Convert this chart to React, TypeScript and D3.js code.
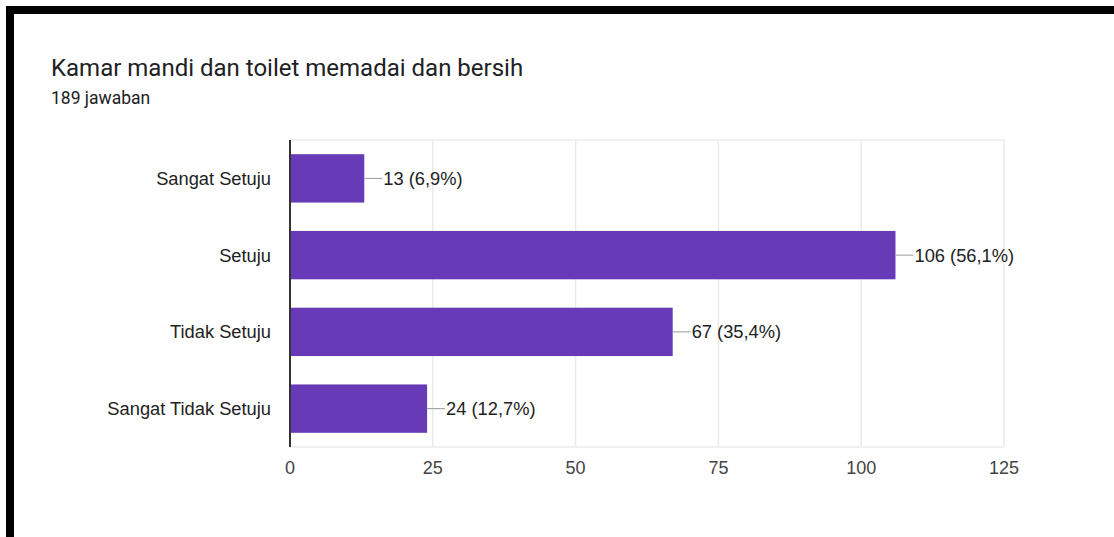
import React, { useEffect, useRef } from "react";
import * as d3 from "d3";

const categories = ["Sangat Setuju", "Setuju", "Tidak Setuju", "Sangat Tidak Setuju"];
const counts = [13, 106, 67, 24];
const percents = ["6,9%", "56,1%", "35,4%", "12,7%"];
const xTicks = [0, 25, 50, 75, 100, 125];
const title = "Kamar mandi dan toilet memadai dan bersih";
const subtitle = "189 jawaban";

const W = 1114;
const H = 537;

const App = () => {
  const svgRef = useRef<SVGSVGElement>(null);

  useEffect(() => {
    const svg = d3.select(svgRef.current);
    svg.selectAll("*").remove();

    const chartFont = "'Liberation Sans', Arial, sans-serif";
    const left = 290;
    const right = 1004;
    const top = 140;
    const bottom = 447;

    const data = categories.map((c, i) => ({ cat: c, n: counts[i], pct: percents[i] }));

    const x = d3.scaleLinear().domain([0, 125]).range([left, right]);
    const y = d3.scaleBand().domain(categories).range([top, bottom]).paddingInner(0.37).paddingOuter(0.185);

    svg.append("rect").attr("width", W).attr("height", H).attr("fill", "#fff");

    // frame borders
    svg.append("rect").attr("x", 6).attr("y", 6).attr("width", W - 6).attr("height", 8).attr("fill", "#000");
    svg.append("rect").attr("x", 6).attr("y", 6).attr("width", 8).attr("height", H - 6).attr("fill", "#000");

    svg
      .append("text")
      .attr("x", 51)
      .attr("y", 76)
      .style("font-family", "Roboto, sans-serif")
      .style("font-size", "24px")
      .attr("fill", "#202124")
      .text(title);

    svg
      .append("text")
      .attr("x", 51)
      .attr("y", 104)
      .style("font-family", "Roboto, sans-serif")
      .style("font-size", "17.5px")
      .attr("fill", "#202124")
      .text(subtitle);

    const g = svg.append("g");

    // grid
    g.selectAll(".grid")
      .data(xTicks.slice(1))
      .join("line")
      .attr("x1", (d) => x(d))
      .attr("x2", (d) => x(d))
      .attr("y1", top)
      .attr("y2", bottom)
      .attr("stroke", "#ebebeb")
      .attr("stroke-width", 1.5);

    g.append("line")
      .attr("x1", left)
      .attr("x2", right)
      .attr("y1", top)
      .attr("y2", top)
      .attr("stroke", "#ebebeb")
      .attr("stroke-width", 1.5);
    g.append("line")
      .attr("x1", left)
      .attr("x2", right)
      .attr("y1", bottom)
      .attr("y2", bottom)
      .attr("stroke", "#ebebeb")
      .attr("stroke-width", 1.5);

    // bars
    g.selectAll(".bar")
      .data(data)
      .join("rect")
      .attr("x", x(0))
      .attr("y", (d) => y(d.cat)!)
      .attr("width", (d) => x(d.n) - x(0))
      .attr("height", y.bandwidth())
      .attr("fill", "#673ab7");

    // leader lines + labels
    g.selectAll(".lead")
      .data(data)
      .join("line")
      .attr("x1", (d) => x(d.n))
      .attr("x2", (d) => x(d.n) + 18)
      .attr("y1", (d) => y(d.cat)! + y.bandwidth() / 2)
      .attr("y2", (d) => y(d.cat)! + y.bandwidth() / 2)
      .attr("stroke", "#999")
      .attr("stroke-width", 1);

    g.selectAll(".val")
      .data(data)
      .join("text")
      .attr("x", (d) => x(d.n) + 19)
      .attr("y", (d) => y(d.cat)! + y.bandwidth() / 2)
      .attr("dy", "0.35em")
      .style("font-family", chartFont)
      .style("font-size", "18.3px")
      .attr("fill", "#222")
      .text((d) => `${d.n} (${d.pct})`);

    // category labels
    g.selectAll(".cat")
      .data(data)
      .join("text")
      .attr("x", 271)
      .attr("y", (d) => y(d.cat)! + y.bandwidth() / 2)
      .attr("dy", "0.35em")
      .attr("text-anchor", "end")
      .style("font-family", chartFont)
      .style("font-size", "18.3px")
      .attr("fill", "#222")
      .text((d) => d.cat);

    // y axis line
    g.append("line")
      .attr("x1", left)
      .attr("x2", left)
      .attr("y1", top)
      .attr("y2", bottom)
      .attr("stroke", "#333")
      .attr("stroke-width", 2);

    // x tick labels
    g.selectAll(".tick")
      .data(xTicks)
      .join("text")
      .attr("x", (d) => x(d))
      .attr("y", 474)
      .attr("text-anchor", "middle")
      .style("font-family", chartFont)
      .style("font-size", "18px")
      .attr("fill", "#444")
      .text((d) => d);
  }, []);

  return (
    <svg
      ref={svgRef}
      width={W}
      height={H}
      style={{ position: "absolute", left: 0, top: 0, display: "block" }}
    ></svg>
  );
};

export default App;
